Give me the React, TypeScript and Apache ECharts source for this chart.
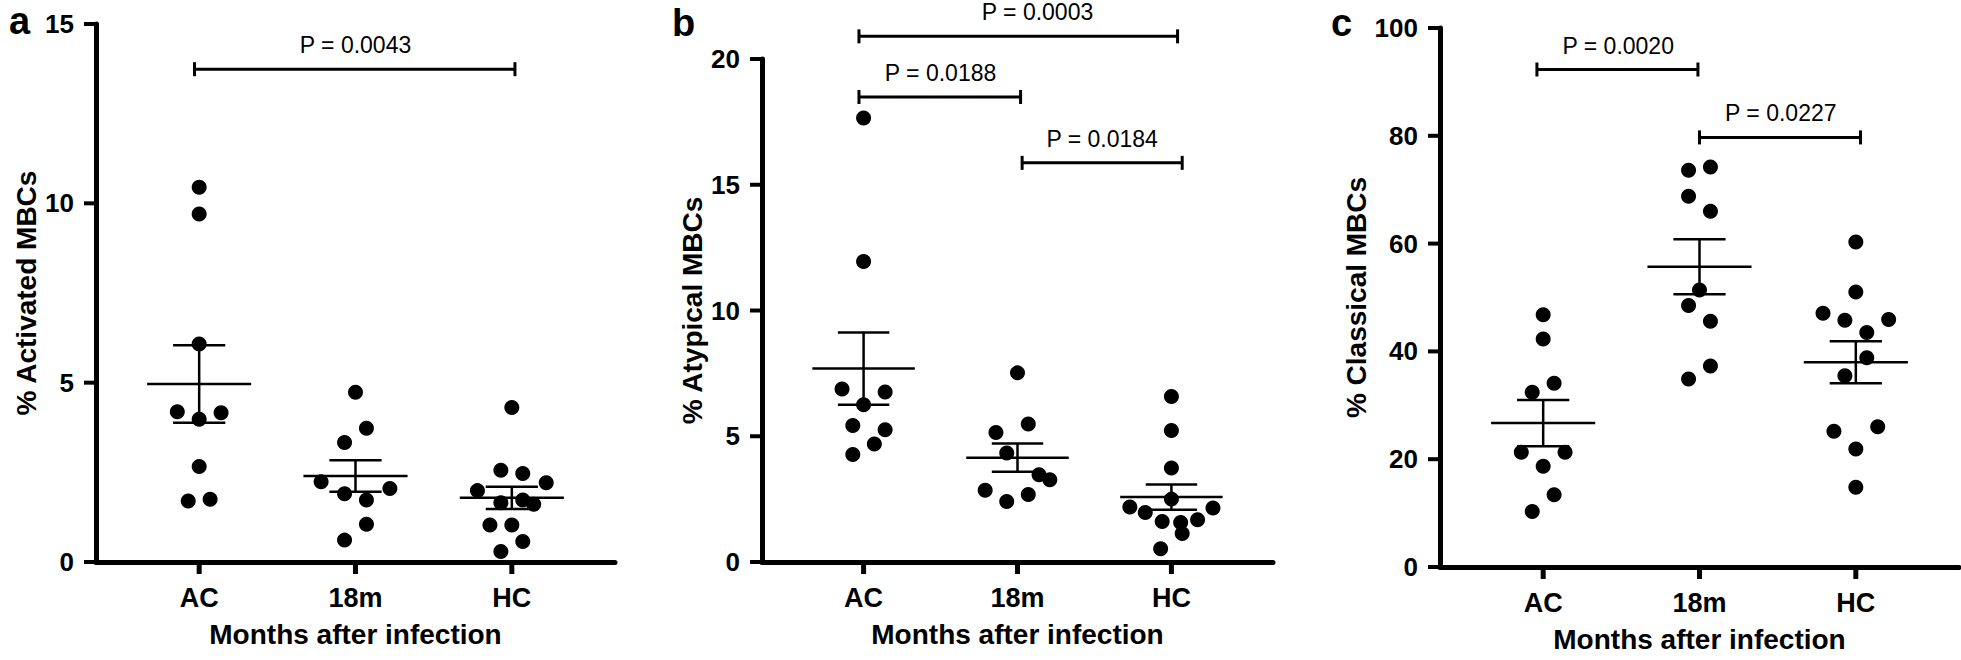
import React, { useEffect, useRef } from 'react';
import * as echarts from 'echarts';

// ---------- data ----------
const categories = ['AC', '18m', 'HC'];
const xAxisTitle = 'Months after infection';

// Panel a: % Activated MBCs
const activatedAC = [10.45, 9.7, 6.08, 4.19, 4.16, 3.98, 2.66, 1.7, 1.75];
const activated18m = [4.73, 3.73, 3.33, 2.24, 2.05, 1.9, 1.73, 1.05, 0.61];
const activatedHC = [4.31, 2.56, 2.47, 2.21, 1.99, 1.73, 1.65, 1.61, 1.03, 1.03, 0.57, 0.29];
const activatedACJitter = [0, 0, 0, -0.14, 0.14, 0, 0, -0.07, 0.07];
const activated18mJitter = [0, 0.07, -0.07, -0.22, 0.22, -0.07, 0.07, 0.07, -0.07];
const activatedHCJitter = [0, -0.07, 0.07, 0.22, -0.22, 0.07, -0.07, 0.14, -0.14, 0, 0.07, -0.07];
const activatedMean = [4.96, 2.4, 1.79];
const activatedSem = [1.08, 0.44, 0.31];
const activatedBrackets = [{ from: -0.03, to: 2.02, y: 13.74, label: 'P = 0.0043', labelX: 1.0 }];

// Panel b: % Atypical MBCs
const atypicalAC = [17.65, 11.95, 6.88, 6.76, 6.25, 5.43, 5.26, 4.69, 4.27];
const atypical18m = [7.52, 5.49, 5.15, 4.33, 3.47, 3.27, 2.85, 2.68, 2.41];
const atypicalHC = [6.58, 5.23, 3.74, 2.5, 2.19, 2.15, 1.97, 1.68, 1.61, 1.57, 1.13, 0.53];
const atypicalACJitter = [0, 0, -0.14, 0.14, 0, -0.07, 0.14, 0.07, -0.07];
const atypical18mJitter = [0, 0.07, -0.14, -0.07, 0.14, 0.21, -0.21, 0.07, -0.07];
const atypicalHCJitter = [0, 0, 0, 0, -0.27, 0.27, -0.17, 0.17, -0.06, 0.06, 0.07, -0.07];
const atypicalMean = [7.69, 4.15, 2.58];
const atypicalSem = [1.44, 0.56, 0.5];
const atypicalBrackets = [
  { from: -0.03, to: 2.04, y: 20.9, label: 'P = 0.0003', labelX: 1.13 },
  { from: -0.03, to: 1.02, y: 18.49, label: 'P = 0.0188', labelX: 0.5 },
  { from: 1.03, to: 2.07, y: 15.87, label: 'P = 0.0184', labelX: 1.55 },
];

// Panel c: % Classical MBCs
const classicalAC = [46.8, 42.3, 34.1, 32.4, 21.3, 21.3, 18.7, 13.4, 10.3];
const classical18m = [74.2, 73.6, 68.8, 66.0, 51.4, 48.5, 45.6, 37.3, 34.9];
const classicalHC = [60.3, 51.0, 47.1, 45.8, 45.9, 43.5, 38.8, 35.5, 26.0, 25.2, 21.9, 14.8];
const classicalACJitter = [0, 0, 0.07, -0.07, -0.14, 0.14, 0, 0.07, -0.07];
const classical18mJitter = [0.07, -0.07, -0.07, 0.07, 0, -0.07, 0.07, 0.07, -0.07];
const classicalHCJitter = [0, 0, -0.21, -0.07, 0.21, 0.07, 0.07, -0.07, 0.14, -0.14, 0, 0];
const classicalMean = [26.7, 55.7, 38.0];
const classicalSem = [4.3, 5.1, 3.9];
const classicalBrackets = [
  { from: -0.04, to: 0.99, y: 92.3, label: 'P = 0.0020', labelX: 0.48 },
  { from: 1.0, to: 2.03, y: 79.7, label: 'P = 0.0227', labelX: 1.52 },
];

// ---------- panel definitions ----------
const panels = [
  {
    letter: 'a', yName: '% Activated MBCs', yMax: 15, yInterval: 5,
    groups: [activatedAC, activated18m, activatedHC],
    jitter: [activatedACJitter, activated18mJitter, activatedHCJitter],
    mean: activatedMean, sem: activatedSem, brackets: activatedBrackets,
  },
  {
    letter: 'b', yName: '% Atypical MBCs', yMax: 20, yInterval: 5,
    groups: [atypicalAC, atypical18m, atypicalHC],
    jitter: [atypicalACJitter, atypical18mJitter, atypicalHCJitter],
    mean: atypicalMean, sem: atypicalSem, brackets: atypicalBrackets,
  },
  {
    letter: 'c', yName: '% Classical MBCs', yMax: 100, yInterval: 20,
    groups: [classicalAC, classical18m, classicalHC],
    jitter: [classicalACJitter, classical18mJitter, classicalHCJitter],
    mean: classicalMean, sem: classicalSem, brackets: classicalBrackets,
  },
];

// layout (pixels)
const layout = [
  { left: 96, top: 24, width: 519, height: 538, letterLeft: 9, letterTop: 2 },
  { left: 762, top: 59, width: 511, height: 503, letterLeft: 672, letterTop: 4 },
  { left: 1440, top: 28, width: 519, height: 539, letterLeft: 1331, letterTop: 4 },
];

const FONT = '"Liberation Sans", Arial, Helvetica, sans-serif';
const X_MIN = -0.66;
const X_MAX = 2.66;
const AXIS_W = 5;

function buildOption() {
  const grid: any[] = [];
  const xAxis: any[] = [];
  const yAxis: any[] = [];
  const series: any[] = [];
  const title: any[] = [];

  panels.forEach((p, i) => {
    const L = layout[i];
    grid.push({ left: L.left, top: L.top, width: L.width, height: L.height, containLabel: false });
    title.push({
      text: p.letter, left: L.letterLeft, top: L.letterTop, padding: 0,
      textStyle: { fontSize: 38, fontWeight: 'bold', fontFamily: FONT, color: '#000' },
    });
    xAxis.push({
      type: 'value', gridIndex: i, min: X_MIN, max: X_MAX,
      splitLine: { show: false },
      axisLine: { show: true, onZero: false, lineStyle: { color: '#000000', width: AXIS_W } },
      axisTick: { show: false },
      axisLabel: {
        show: true, customValues: [0, 1, 2], margin: 22,
        formatter: (v: number) => categories[Math.round(v)] ?? '',
        fontSize: 27, fontWeight: 'bold', fontFamily: FONT, color: '#000',
      },
      name: xAxisTitle, nameLocation: 'middle', nameGap: 58,
      nameTextStyle: { fontSize: 28, fontWeight: 'bold', fontFamily: FONT, color: '#000' },
    });
    yAxis.push({
      type: 'value', gridIndex: i, min: 0, max: p.yMax, interval: p.yInterval,
      splitLine: { show: false },
      axisLine: { show: true, onZero: false, lineStyle: { color: '#000000', width: AXIS_W } },
      axisTick: { show: false },
      axisLabel: { margin: 22, fontSize: 26, fontWeight: 'bold', fontFamily: FONT, color: '#000' },
      name: p.yName, nameLocation: 'middle', nameGap: 56,
      nameTextStyle: { fontSize: 28, fontWeight: 'bold', fontFamily: FONT, color: '#000' },
    });

    // tick marks: one custom item per tick, placed through the axes' scales
    const yTicks: number[] = [];
    for (let v = 0; v <= p.yMax + 1e-9; v += p.yInterval) yTicks.push(v);
    const tickData = [
      ...yTicks.map((v) => [X_MIN, v, 0]),
      ...[0, 1, 2].map((v) => [v, 0, 1]),
    ];
    series.push({
      type: 'custom', xAxisIndex: i, yAxisIndex: i, z: 5, clip: false, silent: true,
      encode: { x: 0, y: 1 },
      data: tickData,
      renderItem: (params: any, api: any) => {
        const c = api.coord([api.value(0), api.value(1)]);
        const isX = api.value(2) === 1;
        const shape = isX
          ? { x1: c[0], y1: c[1], x2: c[0], y2: c[1] + 12 }
          : { x1: c[0] - 12, y1: c[1], x2: c[0], y2: c[1] };
        return { type: 'line', shape, style: { stroke: '#000', lineWidth: isX ? 5 : 4 } };
      },
    });

    const points: number[][] = [];
    p.groups.forEach((g, gi) => {
      g.forEach((v, k) => points.push([gi + p.jitter[gi][k], v]));
    });
    series.push({
      type: 'scatter', xAxisIndex: i, yAxisIndex: i, data: points,
      symbol: 'circle', symbolSize: 15, itemStyle: { color: '#000', opacity: 1 }, z: 2,
    });

    series.push({
      type: 'custom', xAxisIndex: i, yAxisIndex: i, z: 3, clip: false,
      encode: { x: 0, y: [1, 2] },
      data: p.mean.map((m, gi) => [gi, m, p.sem[gi]]),
      renderItem: (params: any, api: any) => {
        const x = api.value(0);
        const m = api.value(1);
        const s = api.value(2);
        const seg = (a: number[], b: number[]) => ({
          type: 'line', shape: { x1: a[0], y1: a[1], x2: b[0], y2: b[1] },
          style: { stroke: '#000', lineWidth: 2.5 },
        });
        return {
          type: 'group',
          children: [
            seg(api.coord([x - 0.333, m]), api.coord([x + 0.333, m])),
            seg(api.coord([x, m - s]), api.coord([x, m + s])),
            seg(api.coord([x - 0.167, m + s]), api.coord([x + 0.167, m + s])),
            seg(api.coord([x - 0.167, m - s]), api.coord([x + 0.167, m - s])),
          ],
        };
      },
    });

    const br = p.brackets;
    series.push({
      type: 'custom', xAxisIndex: i, yAxisIndex: i, z: 3, clip: false,
      encode: { x: [0, 1, 3], y: 2 },
      data: br.map((b) => [b.from, b.to, b.y, b.labelX]),
      renderItem: (params: any, api: any) => {
        const a = api.coord([api.value(0), api.value(2)]);
        const b = api.coord([api.value(1), api.value(2)]);
        const t = api.coord([api.value(3), api.value(2)]);
        const st = { stroke: '#000', lineWidth: 3 };
        return {
          type: 'group',
          children: [
            { type: 'line', shape: { x1: a[0], y1: a[1], x2: b[0], y2: b[1] }, style: st },
            { type: 'line', shape: { x1: a[0], y1: a[1] - 7, x2: a[0], y2: a[1] + 7 }, style: st },
            { type: 'line', shape: { x1: b[0], y1: b[1] - 7, x2: b[0], y2: b[1] + 7 }, style: st },
            {
              type: 'text',
              style: {
                text: br[params.dataIndex].label, x: t[0], y: t[1] - 24,
                align: 'center', verticalAlign: 'middle',
                textAlign: 'center', textVerticalAlign: 'middle',
                fontSize: 23, fontFamily: FONT, fill: '#000',
              },
            },
          ],
        };
      },
    });
  });

  return {
    animation: false,
    backgroundColor: '#fff',
    title, grid, xAxis, yAxis, series,
  };
}

export default function App() {
  const ref = useRef<HTMLDivElement>(null);
  useEffect(() => {
    if (!ref.current) return;
    const chart = echarts.init(ref.current, null, { renderer: 'svg' });
    chart.setOption(buildOption() as any);
    return () => chart.dispose();
  }, []);
  return (
    <div
      ref={ref}
      style={{ position: 'absolute', left: 0, top: 0, width: 1961, height: 660, background: '#fff' }}
    />
  );
}
